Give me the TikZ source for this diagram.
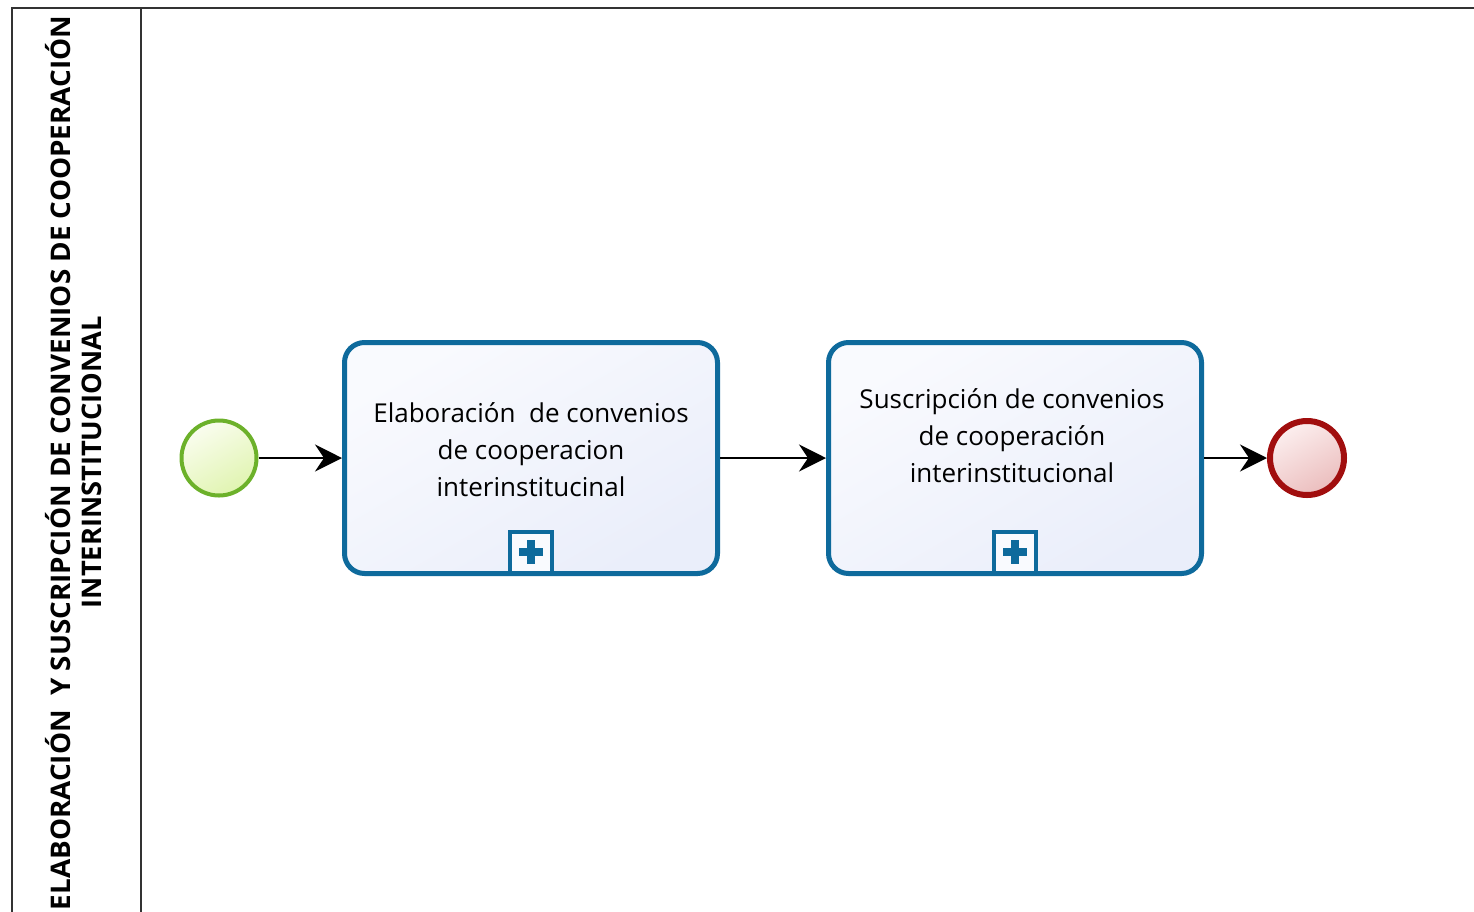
\documentclass[tikz,border=0pt]{standalone}
\usepackage{fontspec}
\setmainfont{Open Sans}
\usetikzlibrary{arrows.meta,positioning,calc}
\definecolor{taskblue}{HTML}{0E6A9C}
\definecolor{taskfillA}{HTML}{F9FAFE}
\definecolor{taskfillB}{HTML}{EAEEFA}
\definecolor{startgreen}{HTML}{6CB12A}
\definecolor{startA}{HTML}{FAFDEF}
\definecolor{startB}{HTML}{E0F4B0}
\definecolor{endred}{HTML}{A10E0E}
\definecolor{endA}{HTML}{FCEFEF}
\definecolor{endB}{HTML}{EBBDBD}
\definecolor{poolgray}{HTML}{333333}
\tikzset{
  pooline/.style={draw=poolgray, line width=2.5pt},
  taskbox/.style={draw=taskblue, line width=5pt, rounded corners=20pt,
    top color=taskfillA, bottom color=taskfillB, shading angle=30,
    minimum width=373pt, minimum height=231pt, inner sep=0pt},
  tasktext/.style={align=center, font=\fontsize{26}{37}\selectfont, inner sep=0pt},
  plusbox/.style={draw=taskblue, line width=3.5pt, fill=taskfillA,
    minimum width=42pt, minimum height=41pt, inner sep=0pt, anchor=south},
  startev/.style={circle, draw=startgreen, line width=4pt, top color=startA, bottom color=startB,
    shading angle=30, minimum size=75pt, inner sep=0pt},
  endev/.style={circle, draw=endred, line width=6pt, top color=endA, bottom color=endB,
    shading angle=30, minimum size=74pt, inner sep=0pt},
  flow/.style={draw=black, line width=2pt, -{Stealth[length=27pt,width=27pt,inset=9pt]}},
  lanetext/.style={rotate=90, font=\bfseries\fontsize{27}{27}\selectfont, inner sep=0pt}
}
\begin{document}
\begin{tikzpicture}[x=1pt,y=-1pt]
\useasboundingbox (0,0) rectangle (1474,911);
% pool and lane
\draw[pooline] (12,912) -- (12,8) -- (1476,8);
\draw[pooline] (141,8) -- (141,912);
\node[lanetext] (lane1) at (58,463) {\scalebox{1.03}[1]{ELABORACIÓN\ \ Y SUSCRIPCIÓN DE CONVENIOS DE COOPERACIÓN}};
\node[lanetext] (lane2) at (92,462) {\scalebox{1.01}[1]{INTERINSTITUCIONAL}};
% events
\node[startev] (start) at (219,458) {};
\node[endev] (end) at (1307,458) {};
% tasks
\node[taskbox] (t1) at (531,458) {};
\node[taskbox] (t2) at (1015,458) {};
\node[tasktext] (t1txt) at (531,450) {Elaboración\ \ de convenios\\de cooperacion\\interinstitucinal};
\node[tasktext] (t2txt) at (1012,436) {Suscripción de convenios\\de cooperación\\interinstitucional};
% subprocess markers
\node[plusbox] (p1) at ($(t1.south)+(0,-1.5)$) {};
\node[plusbox] (p2) at ($(t2.south)+(0,-1.5)$) {};
\foreach \p in {p1,p2}{
  \fill[taskblue] ($(\p.center)+(-12,-4)$) rectangle ($(\p.center)+(12,4)$);
  \fill[taskblue] ($(\p.center)+(-4,-12)$) rectangle ($(\p.center)+(4,12)$);
}
% flows
\draw[flow] (start) -- (t1);
\draw[flow] (t1) -- (t2);
\draw[flow] (t2) -- (end);
\end{tikzpicture}
\end{document}
